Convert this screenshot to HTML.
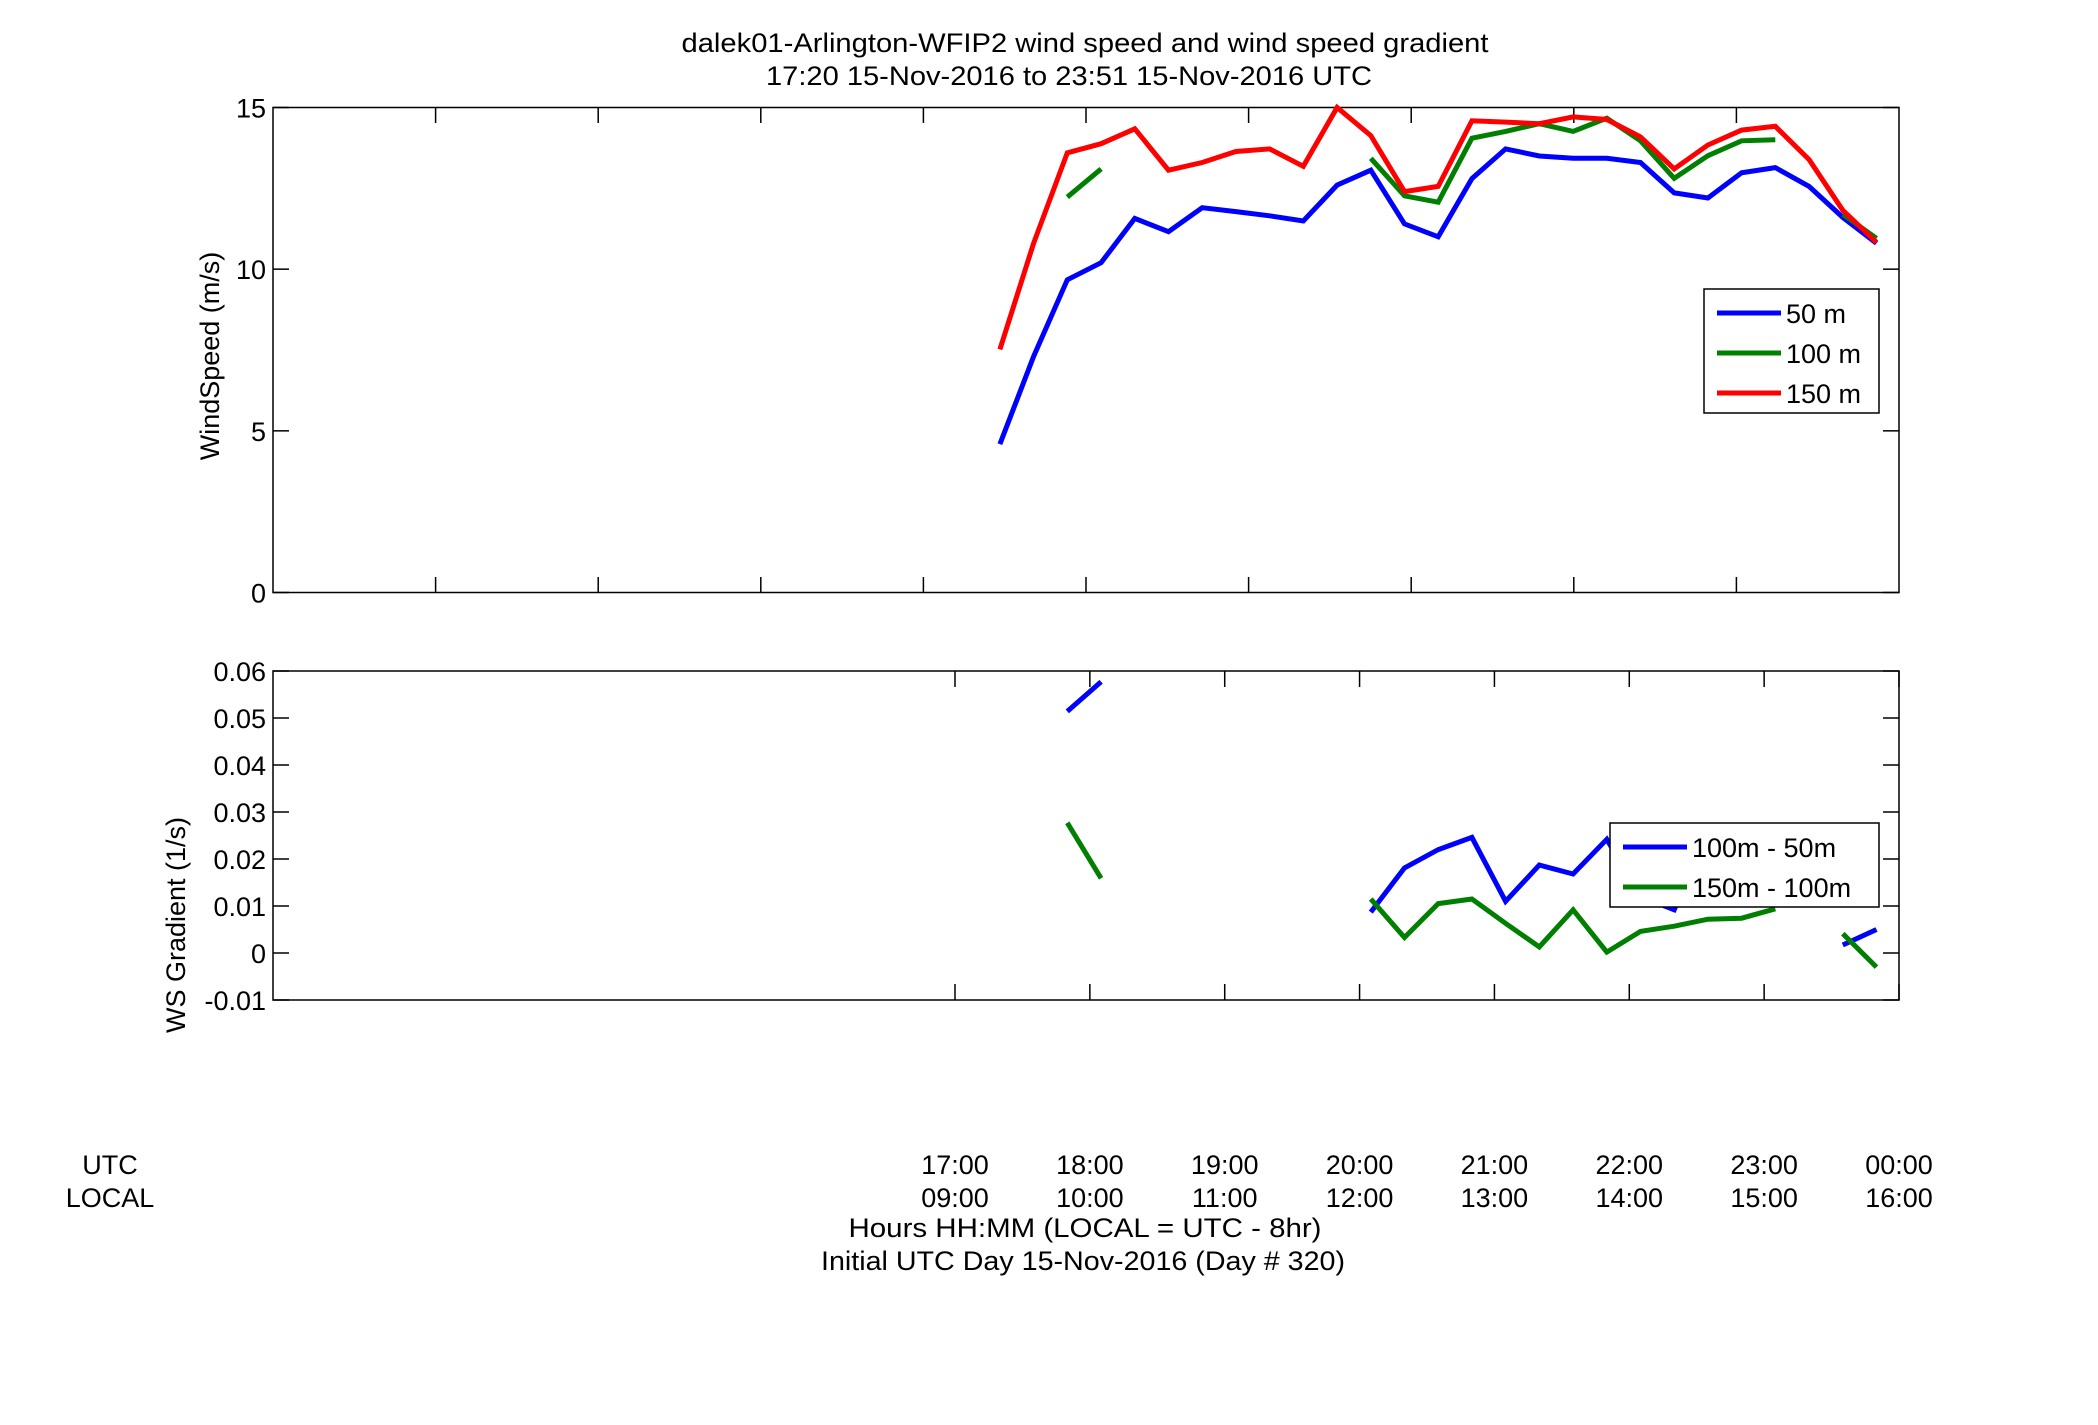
<!DOCTYPE html>
<html><head><meta charset="utf-8"><style>
html,body{margin:0;padding:0;background:#fff;}
svg{display:block;font-family:"Liberation Sans",Arial,sans-serif;}
</style></head><body>
<svg id="chart" width="2098" height="1425" viewBox="0 0 2098 1425" xmlns="http://www.w3.org/2000/svg">
<rect width="2098" height="1425" fill="#fff"/>
<text x="1085" y="52" font-size="27" text-anchor="middle" textLength="807" lengthAdjust="spacingAndGlyphs">dalek01-Arlington-WFIP2  wind speed and wind speed gradient</text>
<text x="1069" y="85" font-size="27" text-anchor="middle" textLength="606" lengthAdjust="spacingAndGlyphs">17:20 15-Nov-2016 to 23:51 15-Nov-2016  UTC</text>
<g id="topPanel"></g>
<g id="botPanel"></g>
<text x="110" y="1174" font-size="27" text-anchor="middle">UTC</text>
<text x="110" y="1207" font-size="27" text-anchor="middle">LOCAL</text>
<text x="1085" y="1237" font-size="27" text-anchor="middle" textLength="473" lengthAdjust="spacingAndGlyphs">Hours HH:MM  (LOCAL = UTC - 8hr)</text>
<text x="1083" y="1270" font-size="27" text-anchor="middle" textLength="524" lengthAdjust="spacingAndGlyphs">Initial UTC Day 15-Nov-2016 (Day # 320)</text>
</svg>
<script>
const times = [17.333,17.583,17.833,18.083,18.333,18.583,18.833,19.083,19.333,19.583,19.833,20.083,20.333,20.583,20.833,21.083,21.333,21.583,21.833,22.083,22.333,22.583,22.833,23.083,23.333,23.583,23.833];
const ws50 = [4.59,7.3,9.67,10.2,11.57,11.16,11.9,11.78,11.65,11.49,12.6,13.06,11.4,11.0,12.8,13.72,13.5,13.43,13.43,13.3,12.36,12.2,12.98,13.14,12.56,11.6,10.8];
const ws100 = [null,null,12.23,13.1,null,null,null,null,null,null,null,13.43,12.27,12.07,14.05,14.26,14.5,14.26,14.67,13.97,12.81,13.51,13.97,14.0,null,11.7,10.95];
const ws150 = [7.52,10.8,13.6,13.88,14.34,13.06,13.3,13.64,13.72,13.18,15.0,14.13,12.4,12.56,14.59,14.55,14.5,14.71,14.63,14.09,13.1,13.84,14.3,14.42,13.39,11.82,10.83];
const grad1 = [null,null,0.0514,0.0577,null,null,null,null,null,null,null,0.0087,0.0181,0.022,0.0246,0.011,0.0187,0.0168,0.0242,0.012,0.0092,0.0257,0.0194,0.0163,null,0.0017,0.005];
const grad2 = [null,null,0.0277,0.0159,null,null,null,null,null,null,null,0.0115,0.0033,0.0105,0.0115,0.0063,0.0013,0.0092,0.0002,0.0046,0.0057,0.0072,0.0074,0.0094,null,0.0041,-0.003];
const wsTicks = [0,5,10,15];
const gradTicks = [-0.01,0,0.01,0.02,0.03,0.04,0.05,0.06];
const hourTicks = [17,18,19,20,21,22,23,24];
const utcLabels = ["17:00","18:00","19:00","20:00","21:00","22:00","23:00","00:00"];
const localLabels = ["09:00","10:00","11:00","12:00","13:00","14:00","15:00","16:00"];

const NS="http://www.w3.org/2000/svg";
const L=273,R=1899,T0=17,XT0=955,XT1=1899;
const xs = t => XT0 + (t-T0)*(XT1-XT0)/7;
const yTop = v => 592.5 - (v-0)*(592.5-107.5)/15;
const yBot = v => 1000 - (v+0.01)*(1000-671)/0.07;
function mk(tag,attrs,parent){const e=document.createElementNS(NS,tag);for(const k in attrs)e.setAttribute(k,attrs[k]);parent.appendChild(e);return e;}
function series(parent,vals,ysc,color,name){
  let d="",pen=false;
  vals.forEach((v,i)=>{ if(v===null){pen=false;return;} d+=(pen?"L":"M")+xs(times[i]).toFixed(1)+" "+ysc(v).toFixed(1)+" "; pen=true;});
  const p=mk("path",{d:d,fill:"none",stroke:color,"stroke-width":5,"stroke-linejoin":"miter"},parent);
  
  
}
function frame(g,y0,y1,name){
  const r=mk("rect",{x:L,y:y0,width:R-L,height:y1-y0,fill:"none",stroke:"#000","stroke-width":1.5},g);
  
  
}
function tick(g,x1,y1,x2,y2){const t=mk("line",{x1:x1,y1:y1,x2:x2,y2:y2,stroke:"#000","stroke-width":1.5},g);
  
  }
function label(g,x,y,txt,anchor,name,size){const t=mk("text",{x:x,y:y,"font-size":size||27,"text-anchor":anchor},g);t.textContent=txt;
  
  return t;}
function legend(g,x,y,w,h,entries,name){
  const lg=mk("g",{},g);
  
  
  mk("rect",{x:x,y:y,width:w,height:h,fill:"#fff",stroke:"#000","stroke-width":1.5},lg);
  entries.forEach((e,i)=>{const cy=y+24+i*40;
    const ln=mk("line",{x1:x+13,y1:cy,x2:x+77,y2:cy,stroke:e[1],"stroke-width":5},lg);
    
    
    label(lg,x+82,cy+10,e[0],"start","legend-entry");});
}
// top panel
const topG=document.getElementById("topPanel");
frame(topG,107.5,592.5,"windspeed-axes");
for(let k=1;k<10;k++){const x=L+k*(R-L)/10;tick(topG,x,107.5,x,123);tick(topG,x,592.5,x,577);}
wsTicks.forEach(v=>{const y=yTop(v);tick(topG,L,y,L+16,y);tick(topG,R,y,R-16,y);label(topG,L-7,y+10,String(v),"end","y-tick-label");});
const yt=label(topG,0,0,"WindSpeed (m/s)","middle","y-axis-title");yt.setAttribute("transform","translate(219,356) rotate(-90)");
series(topG,ws50,yTop,"#0000ff","line-50m");
series(topG,ws100,yTop,"#007f00","line-100m");
series(topG,ws150,yTop,"#ff0000","line-150m");
legend(topG,1704,289,175,124,[["50 m","#0000ff"],["100 m","#007f00"],["150 m","#ff0000"]],"windspeed-legend");
// bottom panel
const botG=document.getElementById("botPanel");
frame(botG,671,1000,"gradient-axes");
hourTicks.forEach((h,i)=>{const x=xs(h);tick(botG,x,671,x,687);tick(botG,x,1000,x,984);
  label(botG,x,1174,utcLabels[i],"middle","x-tick-label-utc");label(botG,x,1207,localLabels[i],"middle","x-tick-label-local");});
gradTicks.forEach(v=>{const y=yBot(v);tick(botG,L,y,L+16,y);tick(botG,R,y,R-16,y);label(botG,L-7,y+10,(v===0?"0":String(v)),"end","y-tick-label");});
const yb=label(botG,0,0,"WS Gradient (1/s)","middle","y-axis-title");yb.setAttribute("transform","translate(185,925) rotate(-90)");
series(botG,grad1,yBot,"#0000ff","line-100m-50m");
series(botG,grad2,yBot,"#007f00","line-150m-100m");
legend(botG,1610,823,269,84,[["100m - 50m","#0000ff"],["150m - 100m","#007f00"]],"gradient-legend");
</script>
</body></html>
